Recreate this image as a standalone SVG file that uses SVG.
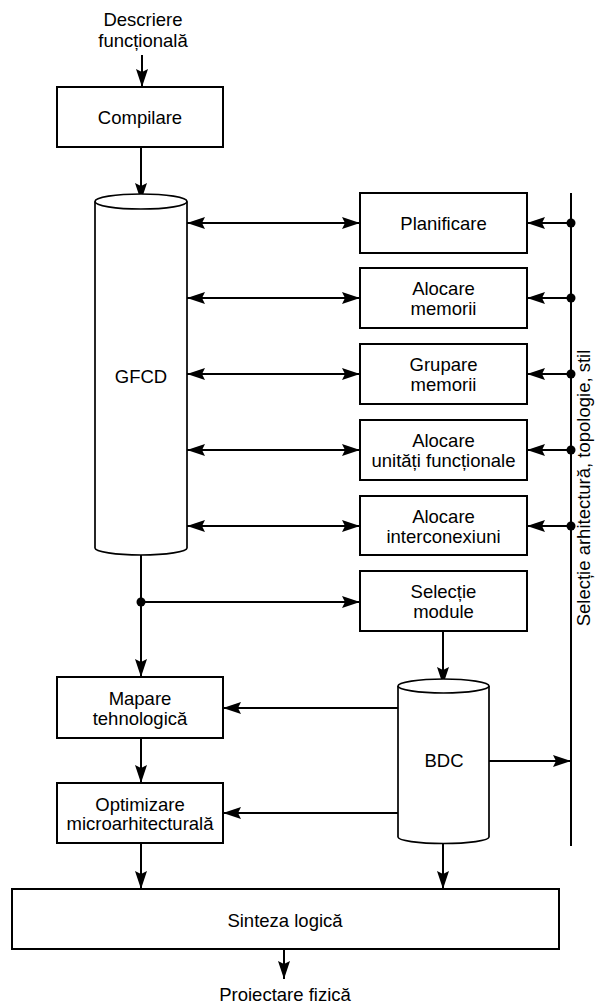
<svg xmlns="http://www.w3.org/2000/svg" width="595" height="1005" viewBox="0 0 595 1005">
  <style>
    text { font-family: "Liberation Sans", Arial, sans-serif; font-size: 18.5px; fill: #000; text-anchor: middle; }
    .box { fill: #fff; stroke: #000; stroke-width: 2; }
    .cyl { fill: #fff; stroke: #000; stroke-width: 1.7; }
    .wire { fill: none; stroke: #000; stroke-width: 2; }
    .arrow { marker-end: url(#head); }
    .both { marker-start: url(#head); marker-end: url(#head); }
    .dot { fill: #000; }
  </style>
  <defs>
    <marker id="head" viewBox="0 0 18 12" refX="18" refY="6" markerWidth="18" markerHeight="12" markerUnits="userSpaceOnUse" orient="auto-start-reverse">
      <path d="M0,0 L18,6 L0,12 L3,6 z" fill="#000"/>
    </marker>
  </defs>

  <!-- connectors -->
  <g id="connectors">
    <line class="wire arrow" x1="142" y1="55" x2="142" y2="87"/>
    <line class="wire arrow" x1="141" y1="147" x2="141" y2="201"/>

    <line class="wire both" x1="187" y1="223" x2="360" y2="223"/>
    <line class="wire both" x1="187" y1="298" x2="360" y2="298"/>
    <line class="wire both" x1="187" y1="374" x2="360" y2="374"/>
    <line class="wire both" x1="187" y1="450" x2="360" y2="450"/>
    <line class="wire both" x1="187" y1="526" x2="360" y2="526"/>

    <!-- bus on the right -->
    <line class="wire" x1="571" y1="193" x2="571" y2="846"/>
    <line class="wire arrow" x1="571" y1="223" x2="527" y2="223"/>
    <line class="wire arrow" x1="571" y1="298" x2="527" y2="298"/>
    <line class="wire arrow" x1="571" y1="374" x2="527" y2="374"/>
    <line class="wire arrow" x1="571" y1="450" x2="527" y2="450"/>
    <line class="wire arrow" x1="571" y1="526" x2="527" y2="526"/>
    <circle class="dot" cx="571" cy="223" r="4.5"/>
    <circle class="dot" cx="571" cy="298" r="4.5"/>
    <circle class="dot" cx="571" cy="374" r="4.5"/>
    <circle class="dot" cx="571" cy="450" r="4.5"/>
    <circle class="dot" cx="571" cy="526" r="4.5"/>

    <line class="wire arrow" x1="141" y1="555" x2="141" y2="677"/>
    <line class="wire arrow" x1="141" y1="602" x2="360" y2="602"/>
    <circle class="dot" cx="141" cy="602" r="4.5"/>

    <line class="wire arrow" x1="443" y1="631" x2="443" y2="685"/>
    <line class="wire arrow" x1="398" y1="708" x2="223" y2="708"/>
    <line class="wire arrow" x1="398" y1="813" x2="223" y2="813"/>
    <line class="wire arrow" x1="489" y1="761" x2="571" y2="761"/>

    <line class="wire arrow" x1="141" y1="738" x2="141" y2="783"/>
    <line class="wire arrow" x1="141" y1="843" x2="141" y2="889"/>
    <line class="wire arrow" x1="443" y1="843" x2="443" y2="889"/>
    <line class="wire arrow" x1="284" y1="949" x2="284" y2="979"/>
  </g>

  <g id="input">
    <text x="143" y="26">Descriere</text>
    <text x="143" y="47">funcțională</text>
  </g>

  <g id="compilare">
    <rect class="box" x="57" y="87" width="166" height="60"/>
    <text x="140" y="124">Compilare</text>
  </g>

  <g id="gfcd">
    <path class="cyl" d="M95,201.5 L95,548 A46,7 0 0 0 187,548 L187,201.5"/>
    <ellipse class="cyl" cx="141" cy="201.5" rx="46" ry="7.5"/>
    <text x="141" y="383">GFCD</text>
  </g>

  <g id="planificare">
    <rect class="box" x="360" y="193" width="167" height="60"/>
    <text x="443.5" y="229.5">Planificare</text>
  </g>

  <g id="alocare-memorii">
    <rect class="box" x="360" y="268" width="167" height="60"/>
    <text x="443.5" y="295">Alocare</text>
    <text x="443.5" y="315">memorii</text>
  </g>

  <g id="grupare-memorii">
    <rect class="box" x="360" y="344" width="167" height="60"/>
    <text x="443.5" y="371">Grupare</text>
    <text x="443.5" y="391">memorii</text>
  </g>

  <g id="alocare-unitati">
    <rect class="box" x="360" y="420" width="167" height="60"/>
    <text x="443.5" y="447">Alocare</text>
    <text x="443.5" y="467">unități funcționale</text>
  </g>

  <g id="alocare-interconexiuni">
    <rect class="box" x="360" y="496" width="167" height="59"/>
    <text x="443.5" y="522.5">Alocare</text>
    <text x="443.5" y="542.5">interconexiuni</text>
  </g>

  <g id="selectie-module">
    <rect class="box" x="360" y="571" width="167" height="60"/>
    <text x="443.5" y="598">Selecție</text>
    <text x="443.5" y="618">module</text>
  </g>

  <g id="bdc">
    <path class="cyl" d="M398,686 L398,837 A45.5,6.5 0 0 0 489,837 L489,686"/>
    <ellipse class="cyl" cx="443.5" cy="686" rx="45.5" ry="7"/>
    <text x="444" y="767">BDC</text>
  </g>

  <g id="mapare">
    <rect class="box" x="57" y="677" width="166" height="61"/>
    <text x="140" y="705">Mapare</text>
    <text x="140" y="724.5">tehnologică</text>
  </g>

  <g id="optimizare">
    <rect class="box" x="57" y="783" width="166" height="60"/>
    <text x="140" y="811">Optimizare</text>
    <text x="140" y="830">microarhitecturală</text>
  </g>

  <g id="sinteza">
    <rect class="box" x="12" y="889" width="547" height="60"/>
    <text x="285" y="927">Sinteza logică</text>
  </g>

  <g id="output">
    <text x="285" y="1001">Proiectare fizică</text>
  </g>

  <g id="bus-label">
    <text transform="translate(590,488) rotate(-90)">Selecție arhitectură, topologie, stil</text>
  </g>
</svg>
